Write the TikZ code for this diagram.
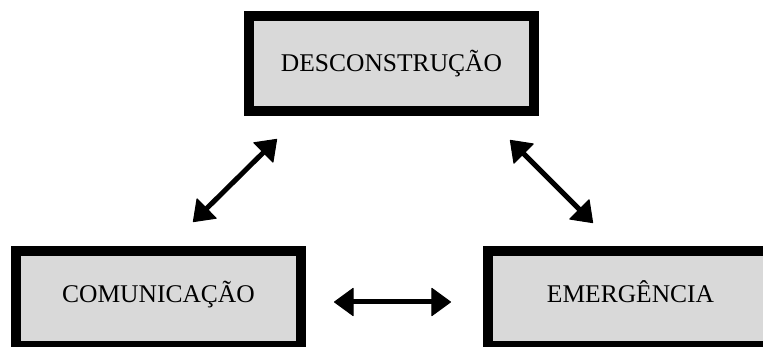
\documentclass[tikz,border=0pt]{standalone}
\usepackage{fontspec}
\setmainfont{Liberation Serif}
\usetikzlibrary{arrows.meta}

\begin{document}
\begin{tikzpicture}[x=1pt, y=1pt]
			\tikzset{caixa/.style={rectangle, draw=black, line width=10pt, fill=black!15, minimum width=285pt, minimum height=95pt, font=\fontsize{25.5}{30}\selectfont}, baixo/.style={caixa, text depth=14pt}, seta/.style={line width=5pt, {Triangle[length=20pt, width=29pt, line width=1pt, round]}-{Triangle[length=20pt, width=29pt, line width=1pt, round]}}};

			\useasboundingbox (0,0) rectangle (763,347);
			\clip (0,0) rectangle (763,347);

			\node[caixa] (dec) at (391.5, 283.5) {DESCONSTRUÇÃO};
			\node[baixo] (com) at (158.5,  48.5) {COMUNICAÇÃO};
			\node[baixo] (emg) at (630.5,  48.5) {EMERGÊNCIA};

			\coordinate (d1) at ([shift={( 33,-23)}]dec.south west);
			\coordinate (d2) at ([shift={(-29,-24)}]dec.south east);
			\coordinate (c1) at ([shift={(-113,24)}]com.north east);
			\coordinate (c2) at ([shift={( 28,-3.5)}]com.east);
			\coordinate (e1) at ([shift={(110, 23)}]emg.north west);
			\coordinate (e2) at ([shift={(-32,-3.5)}]emg.west);

			\draw[seta] (c1) -- (d1);
			\draw[seta] (d2) -- (e1);
			\draw[seta] (c2) -- (e2);

		\end{tikzpicture}
\end{document}
